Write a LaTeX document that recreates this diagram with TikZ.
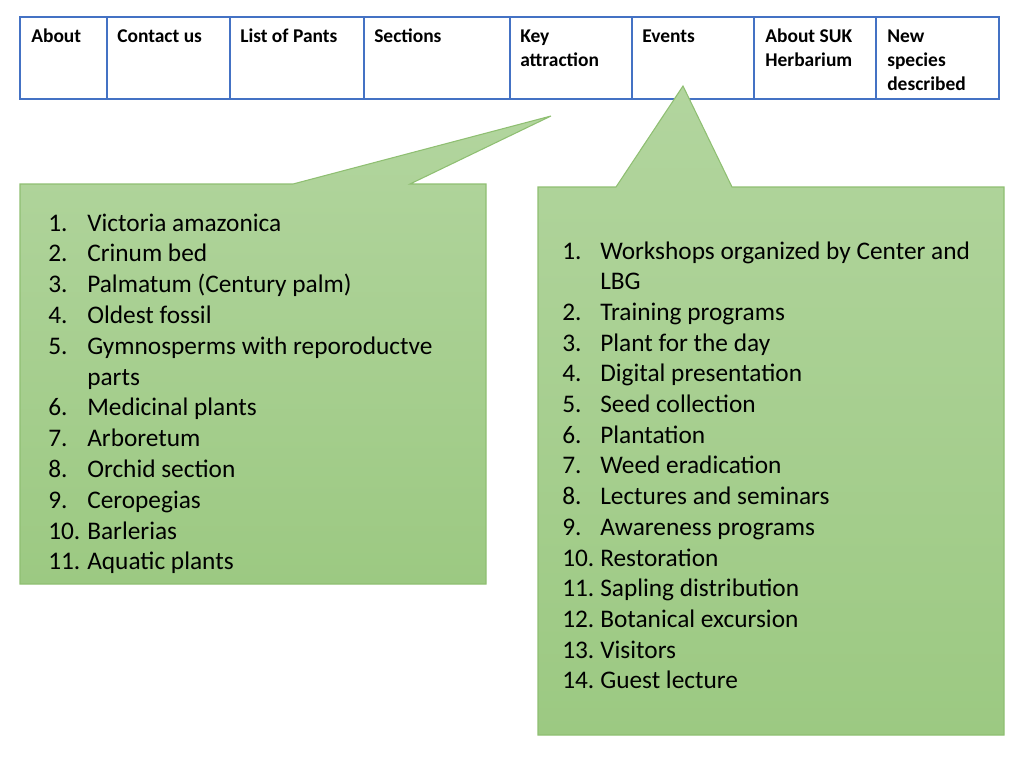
\documentclass[tikz,border=0pt]{standalone}
\usepackage{fontspec}
\setmainfont{Carlito}
\begin{document}
\begin{tikzpicture}[x=0.75pt,y=-0.75pt]
\definecolor{tblue}{HTML}{4472C4}
\definecolor{gtop}{HTML}{B2D59E}
\definecolor{gbot}{HTML}{9CC982}
\definecolor{gline}{HTML}{8FBF72}
\tikzset{
  hdr/.style={anchor=base west, inner sep=0pt, font=\fontsize{14.6}{18}\selectfont\bfseries},
  itm/.style={anchor=base west, inner sep=0pt, font=\fontsize{19}{23}\selectfont},
  callout/.style={draw=gline, line width=0.8pt, top color=gtop, bottom color=gbot},
  grid/.style={draw=tblue, line width=1.2pt}
}
\useasboundingbox (0,0) rectangle (1024,768);
% table
\draw[grid] (20,17) rectangle (999,99);
\draw[tblue, line width=2.2pt] (20,99) -- (999,99);
\foreach \x in {107,230,364,510,632,754,876} \draw[grid] (\x,17) -- (\x,99);
\node[hdr] (h1) at (31,42) {About};
\node[hdr] (h2) at (117,42) {Contact us};
\node[hdr] (h3) at (240,42) {List of Pants};
\node[hdr] (h4) at (374,42) {Sections};
\node[hdr] (h5a) at (520,42) {Key};
\node[hdr] (h5b) at (520,66) {attraction};
\node[hdr] (h6) at (642,42) {Events};
\node[hdr] (h7a) at (765,42) {About SUK};
\node[hdr] (h7b) at (765,66) {Herbarium};
\node[hdr] (h8a) at (887,42) {New};
\node[hdr] (h8b) at (887,66) {species};
\node[hdr] (h8c) at (887,90) {described};
% callouts
\path[callout] (20,184) -- (293,184) -- (551,116) -- (410,184) -- (486,184) -- (486,584) -- (20,584) -- cycle;
\path[callout] (538,187) -- (616,187) -- (683,86) -- (732,187) -- (1004,187) -- (1004,735) -- (538,735) -- cycle;
% left list
\foreach \n/\t [count=\i from 0] in {1./Victoria amazonica, 2./Crinum bed, 3./Palmatum (Century palm), 4./Oldest fossil, 5./Gymnosperms with reporoductve, /parts, 6./Medicinal plants, 7./Arboretum, 8./Orchid section, 9./Ceropegias, 10./Barlerias, 11./Aquatic plants}{
  \node[itm] (ln\i) at (48,{231+30.8*\i}) {\n};
  \node[itm] (lt\i) at (87,{231+30.8*\i}) {\t};
}
% right list
\foreach \n/\t [count=\i from 0] in {1./Workshops organized by Center and, /LBG, 2./Training programs, 3./Plant for the day, 4./Digital presentation, 5./Seed collection, 6./Plantation, 7./Weed eradication, 8./Lectures and seminars, 9./Awareness programs, 10./Restoration, 11./Sapling distribution, 12./Botanical excursion, 13./Visitors, 14./Guest lecture}{
  \node[itm] (rn\i) at (562,{259+30.7*\i}) {\n};
  \node[itm] (rt\i) at (600,{259+30.7*\i}) {\t};
}
\end{tikzpicture}
\end{document}
